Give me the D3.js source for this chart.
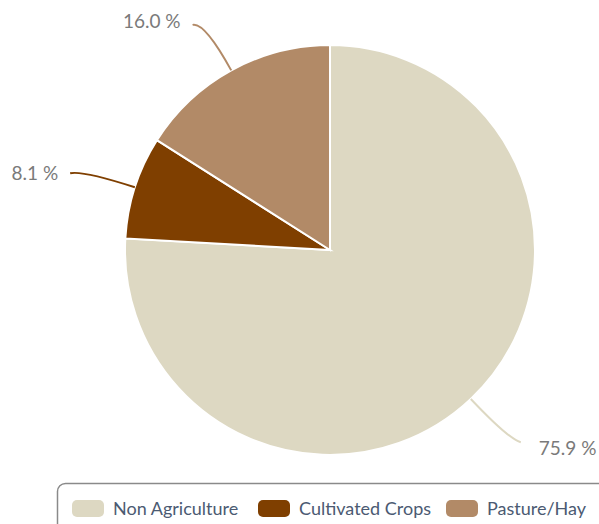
<!DOCTYPE html>
<html>
<head>
<meta charset="utf-8">
<script src="https://cdn.jsdelivr.net/npm/d3@7"></script>
<style>
  body { margin: 0; background: #fff; }
  text { font-family: Lato, "Open Sans", sans-serif; }
</style>
</head>
<body>
<div id="chart"></div>
<script>
// pie data
var categories = ["Non Agriculture", "Cultivated Crops", "Pasture/Hay"];
var values = [75.9, 8.1, 16.0];
var colors = ["#ddd8c2", "#7f3f00", "#b28a67"];

var width = 599, height = 524;
var cx = 330, cy = 250, r = 205;

var svg = d3.select("#chart").append("svg")
    .attr("width", width)
    .attr("height", height);

var pie = d3.pie().sort(null).value(function(d) { return d; });
var arcs = pie(values);
var arc = d3.arc().innerRadius(0).outerRadius(r);

var g = svg.append("g").attr("transform", "translate(" + cx + "," + cy + ")");

g.selectAll("path.slice")
    .data(arcs)
    .enter()
    .append("path")
    .attr("class", "slice")
    .attr("d", arc)
    .style("fill", function(d, i) { return colors[i]; })
    .style("stroke", "#fff")
    .style("stroke-width", 2);

// leader lines + labels
function pt(a, rad) { return [Math.sin(a) * rad, -Math.cos(a) * rad]; }

arcs.forEach(function(d, i) {
  var a = (d.startAngle + d.endAngle) / 2;
  var dir = Math.sin(a) >= 0 ? 1 : -1;
  var p0 = pt(a, r);
  var p1 = pt(a, r * 1.27);
  var p2 = [p1[0] + dir * 12, p1[1] + 3];
  var path = d3.path();
  path.moveTo(p0[0], p0[1]);
  path.quadraticCurveTo(p1[0], p1[1], p2[0], p2[1]);
  g.append("path")
      .attr("d", path.toString())
      .style("fill", "none")
      .style("stroke", colors[i])
      .style("stroke-width", 2);
  g.append("text")
      .attr("x", p2[0] + (dir > 0 ? 18 : -12))
      .attr("y", p2[1] + 8 - Math.cos(a) * 6)
      .attr("text-anchor", dir > 0 ? "start" : "end")
      .style("font-size", "19px")
      .style("fill", "#7a7a7a")
      .text(values[i].toFixed(1) + " %");
});

// legend
var legend = svg.append("g");
legend.append("rect")
    .attr("x", 57.5).attr("y", 483.5)
    .attr("width", 560).attr("height", 60)
    .attr("rx", 8).attr("ry", 8)
    .style("fill", "#fff")
    .style("stroke", "#8a8a8a")
    .style("stroke-width", 1.5);

var legX = [72, 258, 446];
var items = legend.selectAll("g.item")
    .data(categories)
    .enter()
    .append("g")
    .attr("class", "item")
    .attr("transform", function(d, i) { return "translate(" + legX[i] + ",500)"; });

items.append("rect")
    .attr("width", 32).attr("height", 17)
    .attr("rx", 5).attr("ry", 5)
    .style("fill", function(d, i) { return colors[i]; });

items.append("text")
    .attr("x", 41).attr("y", 15)
    .style("font-size", "18px")
    .style("fill", "#4b5a72")
    .text(function(d) { return d; });
</script>
</body>
</html>
